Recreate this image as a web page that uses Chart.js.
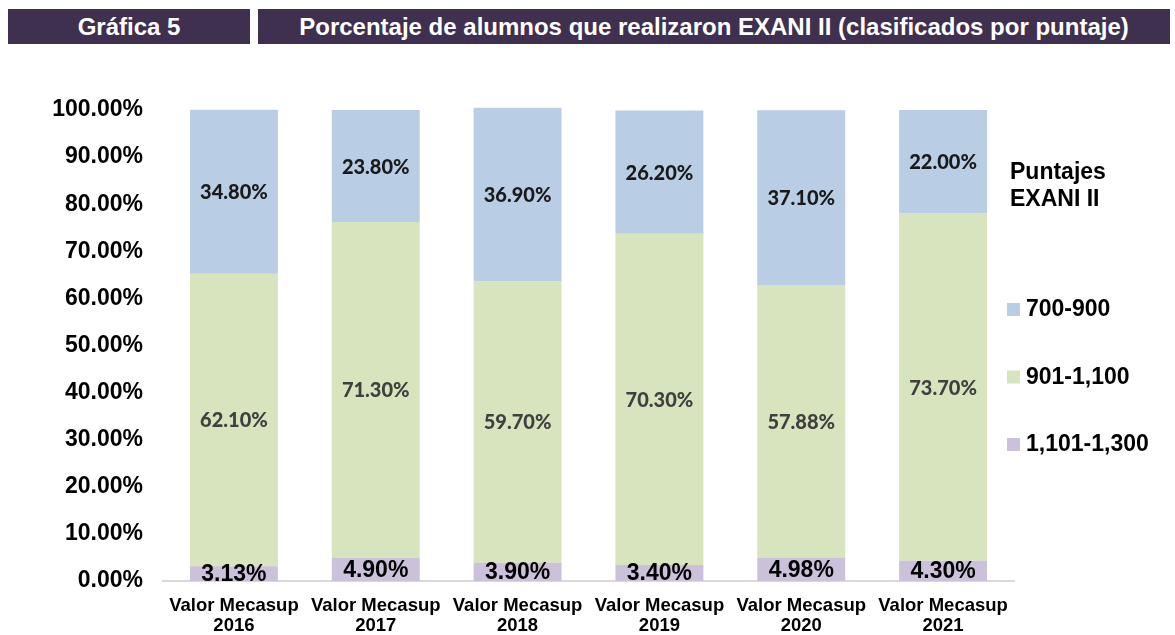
<!DOCTYPE html>
<html lang="es">
<head>
<meta charset="utf-8">
<script src="https://cdn.jsdelivr.net/npm/chart.js@4.4.1/dist/chart.umd.min.js"></script>
<style>
    html, body { margin: 0; padding: 0; background: #fff; }
    #wrap { position: relative; width: 1175px; height: 635px; overflow: hidden; }
    .head {
        position: absolute; top: 9px; height: 35px; background: #3f3050; color: #fff;
        font: bold 24px "Liberation Sans", Arial, sans-serif; line-height: 35px; text-align: center;
    }
    #chart { position: absolute; left: 0; top: 0; }
</style>
</head>
<body>
<div id="wrap">
    <div class="head" style="left:8px;width:242px;">Gráfica 5</div>
    <div class="head" style="left:258px;width:912px;">Porcentaje de alumnos que realizaron EXANI II (clasificados por puntaje)</div>
    <canvas id="chart" width="1175" height="635"></canvas>
</div>
<script>
// Datos de la gráfica
const categories = [
    ['Valor Mecasup', '2016'],
    ['Valor Mecasup', '2017'],
    ['Valor Mecasup', '2018'],
    ['Valor Mecasup', '2019'],
    ['Valor Mecasup', '2020'],
    ['Valor Mecasup', '2021']
];
const score1101_1300 = [3.13, 4.90, 3.90, 3.40, 4.98, 4.30];
const score901_1100 = [62.10, 71.30, 59.70, 70.30, 57.88, 73.70];
const score700_900 = [34.80, 23.80, 36.90, 26.20, 37.10, 22.00];
const yTicks = [0, 10, 20, 30, 40, 50, 60, 70, 80, 90, 100];
const legendTitle = ['Puntajes', 'EXANI II'];

const ARIAL = '"Liberation Sans", Arial, sans-serif';

// etiquetas de valores dentro de cada segmento
const valueLabels = {
    id: 'valueLabels',
    afterDatasetsDraw(chart) {
        const ctx = chart.ctx;
        ctx.save();
        ctx.textAlign = 'center';
        ctx.textBaseline = 'middle';
        chart.data.datasets.forEach((ds, i) => {
            const meta = chart.getDatasetMeta(i);
            ctx.font = ds.labelFont;
            ctx.fillStyle = ds.labelColor;
            meta.data.forEach((bar, j) => {
                const v = ds.data[j];
                ctx.fillText(v.toFixed(2) + '%', bar.x, (bar.y + bar.base) / 2 + 1);
            });
        });
        ctx.restore();
    }
};

// leyenda a la derecha
const sideLegend = {
    id: 'sideLegend',
    afterDraw(chart) {
        const ctx = chart.ctx;
        const x0 = chart.chartArea.right;
        ctx.save();
        ctx.fillStyle = '#000';
        ctx.textAlign = 'left';
        ctx.textBaseline = 'middle';
        ctx.font = 'bold 23px ' + ARIAL;
        legendTitle.forEach((t, k) => ctx.fillText(t, x0 - 4, 173 + k * 27));
        const items = chart.data.datasets.slice().reverse();
        items.forEach((ds, k) => {
            const y = 309 + k * 67.5;
            ctx.fillStyle = ds.backgroundColor;
            ctx.fillRect(x0 - 7, y - 6, 13, 13);
            ctx.fillStyle = '#000';
            ctx.fillText(ds.label, x0 + 12, y + 1);
        });
        ctx.restore();
    }
};

const ctx = document.getElementById('chart').getContext('2d');
new Chart(ctx, {
    type: 'bar',
    data: {
        labels: categories,
        datasets: [{
            label: '1,101-1,300',
            data: score1101_1300,
            backgroundColor: '#ccc1da',
            labelFont: 'bold 23px ' + ARIAL,
            labelColor: '#000'
        }, {
            label: '901-1,100',
            data: score901_1100,
            backgroundColor: '#d7e4bd',
            labelFont: '900 20px Lato, "Open Sans", sans-serif',
            labelColor: '#404040'
        }, {
            label: '700-900',
            data: score700_900,
            backgroundColor: '#b9cde5',
            labelFont: '900 20px Lato, "Open Sans", sans-serif',
            labelColor: '#1a1a1a'
        }]
    },
    options: {
        responsive: false,
        animation: false,
        clip: false,
        categoryPercentage: 1,
        barPercentage: 0.62,
        layout: { padding: { top: 110, right: 161, left: 0, bottom: 0 } },
        plugins: {
            legend: { display: false },
            tooltip: { enabled: false }
        },
        scales: {
            x: {
                stacked: true,
                grid: { display: false },
                border: { color: '#d9d9d9', width: 2 },
                ticks: {
                    color: '#000',
                    padding: 7,
                    maxRotation: 0,
                    font: { family: ARIAL, size: 18.5, weight: 'bold', lineHeight: 1.08 }
                },
                afterFit(scale) { scale.height = 54; }
            },
            y: {
                stacked: true,
                min: 0,
                max: 100,
                grid: { display: false },
                border: { display: false },
                afterBuildTicks(scale) { scale.ticks = yTicks.map(v => ({ value: v })); },
                ticks: {
                    color: '#000',
                    padding: 12,
                    font: { family: ARIAL, size: 23, weight: 'bold' },
                    callback: v => v.toFixed(2) + '%'
                },
                afterFit(scale) { scale.width = 163; }
            }
        }
    },
    plugins: [valueLabels, sideLegend]
});
</script>
</body>
</html>
